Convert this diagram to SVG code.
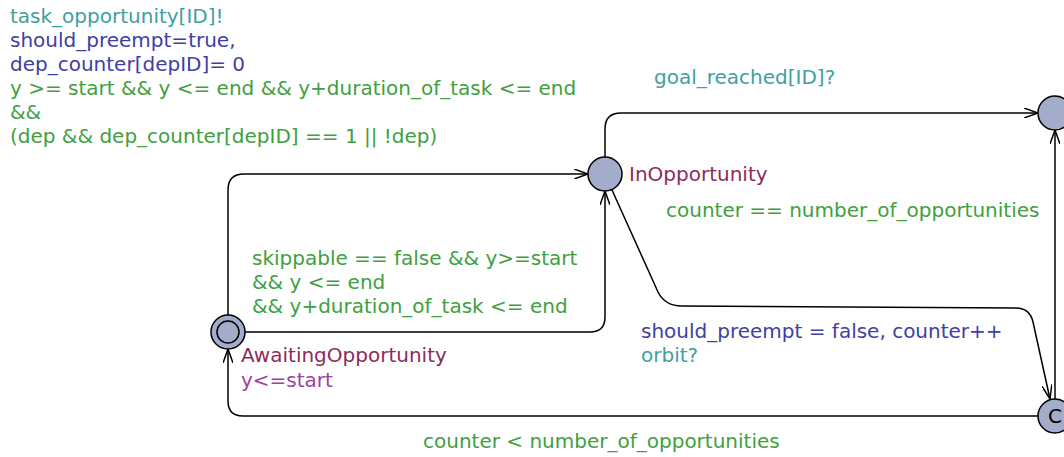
<svg xmlns="http://www.w3.org/2000/svg" width="1064" height="457" viewBox="0 0 1064 457">
<style>
text{font-family:"DejaVu Sans",sans-serif;font-size:20px}
.sync{fill:#3fa0a0}.upd{fill:#4040a4}.grd{fill:#40a040}.name{fill:#8c2c5c}.inv{fill:#a040a0}
.edge{fill:none;stroke:#000;stroke-width:1.5;marker-end:url(#arr)}
.loc{fill:#a3acca;stroke:#000;stroke-width:1.5}
</style>
<defs>
<marker id="arr" viewBox="0 0 14 10" refX="14" refY="5" markerWidth="14" markerHeight="10" markerUnits="userSpaceOnUse" orient="auto">
<path d="M0,0 L14,5 L0,10" fill="none" stroke="#000" stroke-width="1.5"/>
</marker>
</defs>
<g id="connectors">
<path class="edge" d="M228,315 L228,190 Q228,174 244,174 L588,174"/>
<path class="edge" d="M245,332 L590,332 Q605,332 605,317 L605,191"/>
<path class="edge" d="M605,157 L605,129 Q605,113 621,113 L1038,113"/>
<path class="edge" d="M612,190 L658,292 Q665,306 682,306 L1015,308 Q1030,308 1033,322 L1050,399"/>
<path class="edge" d="M1055,399 L1055,130"/>
<path class="edge" d="M1038,416 L243,416 Q228,416 228,401 L228,349"/>
</g>
<g id="labels">
<text x="10" y="23" class="sync">task_opportunity[ID]!</text>
<text x="10" y="47" class="upd">should_preempt=true,</text>
<text x="10" y="71" class="upd">dep_counter[depID]= 0</text>
<text x="10" y="95" class="grd">y &gt;= start &amp;&amp; y &lt;= end &amp;&amp; y+duration_of_task &lt;= end</text>
<text x="10" y="119" class="grd">&amp;&amp;</text>
<text x="10" y="143" class="grd">(dep &amp;&amp; dep_counter[depID] == 1 || !dep)</text>
<text x="654" y="84" class="sync">goal_reached[ID]?</text>
<text x="666" y="217" class="grd">counter == number_of_opportunities</text>
<text x="252" y="265" class="grd">skippable == false &amp;&amp; y&gt;=start</text>
<text x="252" y="289" class="grd">&amp;&amp; y &lt;= end</text>
<text x="252" y="313" class="grd">&amp;&amp; y+duration_of_task &lt;= end</text>
<text x="641" y="338" class="upd">should_preempt = false, counter++</text>
<text x="641" y="362" class="sync">orbit?</text>
<text x="423" y="448" class="grd">counter &lt; number_of_opportunities</text>
</g>
<g id="AwaitingOpportunity">
<circle class="loc" cx="228" cy="332" r="17"/>
<circle class="loc" cx="228" cy="332" r="11"/>
<text x="241" y="362" class="name">AwaitingOpportunity</text>
<text x="241" y="387" class="inv">y&lt;=start</text>
</g>
<g id="InOpportunity">
<circle class="loc" cx="605" cy="174" r="17"/>
<text x="629" y="181" class="name">InOpportunity</text>
</g>
<g id="Goal">
<circle class="loc" cx="1055" cy="113" r="17"/>
</g>
<g id="Committed">
<circle class="loc" cx="1055" cy="416" r="17"/>
<text x="1055" y="423" text-anchor="middle" fill="#000">C</text>
</g>
</svg>
